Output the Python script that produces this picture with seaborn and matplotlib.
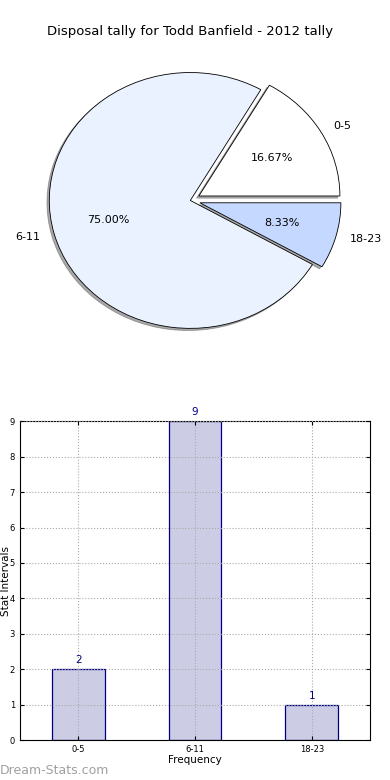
import matplotlib
matplotlib.use("Agg")
import matplotlib.pyplot as plt
import seaborn as sns
import pandas as pd

# data
intervals = ["0-5", "6-11", "18-23"]
tallies = [2, 9, 1]
pie_colors = ["#ffffff", "#ebf2ff", "#c5d8ff"]
explode = [0.07, 0.0, 0.07]

sns.set_style("white")
plt.rcParams['font.family'] = ['DejaVu Sans']
plt.rcParams['text.color'] = 'black'
plt.rcParams['axes.labelcolor'] = 'black'
plt.rcParams['xtick.color'] = 'black'
plt.rcParams['ytick.color'] = 'black'

fig = plt.figure(figsize=(3.9, 7.8), dpi=100)

# Pie chart
ax1 = fig.add_axes([0.036, 0.538, 0.904, 0.41])
ax1.pie(tallies, labels=intervals, colors=pie_colors, explode=explode,
        autopct='%1.2f%%', pctdistance=0.6, labeldistance=1.1,
        shadow={'ox': -0.012, 'oy': -0.012, 'color': '#555555'},
        startangle=0, wedgeprops={'edgecolor': 'black', 'linewidth': 0.6},
        textprops={'fontsize': 8})
ax1.set_aspect('auto')
ax1.set_xlim(-1.25, 1.25)
ax1.set_ylim(-1.25, 1.25)
ax1.set_title('Disposal tally for Todd Banfield - 2012 tally', fontsize=9.5, pad=4)

# Bar chart
ax2 = fig.add_axes([0.051, 0.051, 0.898, 0.409])
df = pd.DataFrame({'interval': intervals, 'tally': tallies})
sns.barplot(data=df, x='interval', y='tally', ax=ax2, width=0.45,
            color=(0, 0, 0.5, 0.2), edgecolor='navy', linewidth=0.9,
            saturation=1)
for p, v in zip(ax2.patches, tallies):
    ax2.annotate(str(v), (p.get_x() + p.get_width() / 2, p.get_height()),
                 xytext=(0, 3), textcoords='offset points', ha='center',
                 va='bottom', color='navy', fontsize=7.5)
ax2.set_xlim(-0.5, 2.5)
ax2.set_ylim(0, 9)
ax2.set_yticks(range(10))
ax2.grid(True, linestyle=':', color='#aaaaaa', linewidth=0.8)
ax2.set_axisbelow(False)
for s in ax2.spines.values():
    s.set_color('black')
    s.set_linewidth(0.8)
ax2.tick_params(axis='both', labelsize=6, direction='in', length=3,
                left=True, bottom=True, right=True, top=True)
ax2.set_xlabel('Frequency', fontsize=7.5, labelpad=1)
ax2.set_ylabel('Stat Intervals', fontsize=7.5)
ax2.yaxis.set_label_coords(-0.026, 0.5)

fig.text(0.0, 0.004, 'Dream-Stats.com', fontsize=9, color='#a0a0a0',
         ha='left', va='bottom')

fig.savefig('out.png', dpi=100)
